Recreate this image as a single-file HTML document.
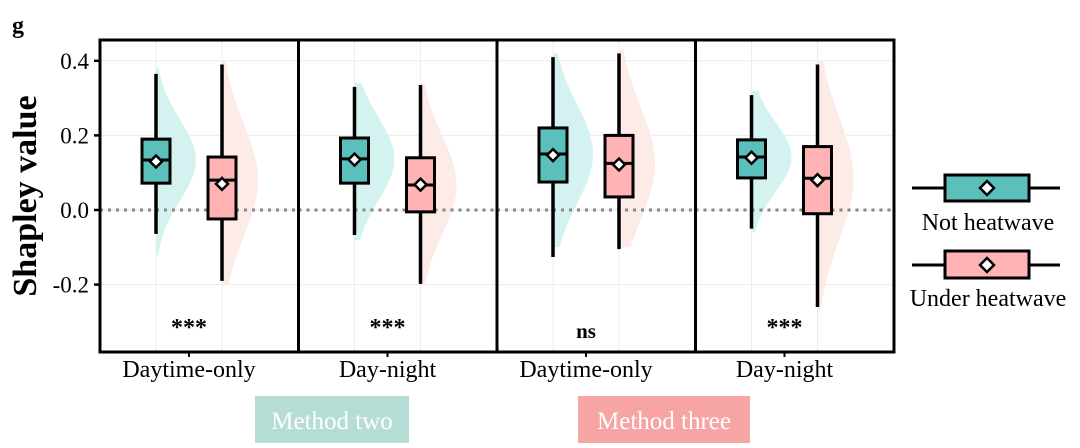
<!DOCTYPE html>
<html><head><meta charset="utf-8"><style>
body{margin:0;background:#fff;}
svg text{font-family:"Liberation Serif",serif;}
</style></head><body>
<svg id="chart" width="1080" height="443" xmlns="http://www.w3.org/2000/svg">
<text x="12" y="33" font-size="24" font-weight="bold">g</text>
<text transform="translate(36,196) rotate(-90)" text-anchor="middle" font-size="34" font-weight="bold">Shapley value</text>
<g id="grid"></g><g id="dens"></g><g id="marks"></g><g id="frame"></g>
<rect x="255" y="396" width="154" height="47" fill="#b5ddd5"/>
<text x="332" y="429" text-anchor="middle" font-size="25" fill="#fff">Method two</text>
<rect x="578" y="396" width="172" height="47" fill="#f6a4a4"/>
<text x="664" y="429" text-anchor="middle" font-size="25" fill="#fff">Method three</text>
<g>
<line x1="912" y1="188" x2="1060" y2="188" stroke="#000" stroke-width="3"/>
<rect x="945" y="175" width="84" height="26" fill="#5bbfbc" stroke="#000" stroke-width="3"/>
<polygon points="987,181 994,188 987,195 980,188" fill="#fff" stroke="#000" stroke-width="2.5"/>
<text x="988" y="230" text-anchor="middle" font-size="24">Not heatwave</text>
<line x1="912" y1="265" x2="1060" y2="265" stroke="#000" stroke-width="3"/>
<rect x="945" y="251" width="84" height="27" fill="#ffb3b5" stroke="#000" stroke-width="3"/>
<polygon points="987,258 994,265 987,272 980,265" fill="#fff" stroke="#000" stroke-width="2.5"/>
<text x="988" y="306" text-anchor="middle" font-size="24">Under heatwave</text>
</g>
</svg>
<script>
const panels=["Daytime-only","Day-night","Daytime-only","Day-night"];
const signif=["***","***","ns","***"];
const yTicks=[0.4,0.2,0.0,-0.2];
const yTickLabels=["0.4","0.2","0.0","-0.2"];
// per panel: [not heatwave, under heatwave]
const whiskHi=[[0.365,0.39],[0.33,0.335],[0.41,0.42],[0.308,0.39]];
const q3=[[0.19,0.142],[0.193,0.14],[0.22,0.2],[0.188,0.17]];
const med=[[0.134,0.08],[0.137,0.067],[0.15,0.125],[0.142,0.085]];
const q1=[[0.072,-0.024],[0.072,-0.005],[0.075,0.035],[0.086,-0.01]];
const whiskLo=[[-0.064,-0.19],[-0.067,-0.198],[-0.126,-0.105],[-0.05,-0.26]];
const means=[[0.13,0.07],[0.135,0.068],[0.147,0.122],[0.14,0.08]];
const densLo=[[-0.12,-0.2],[-0.08,-0.2],[-0.1,-0.1],[-0.06,-0.27]];
const densHi=[[0.38,0.4],[0.34,0.34],[0.42,0.43],[0.32,0.4]];

const NS="http://www.w3.org/2000/svg";
const yS=v=>210-v*373;
const pX0=100,pW=198.5,pTop=40,pBot=352;
function mk(t,a,p){const e=document.createElementNS(NS,t);for(const k in a)e.setAttribute(k,a[k]);(p||document.getElementById('chart')).appendChild(e);return e;}
const G=id=>document.getElementById(id);
const fills=["#5bbfbc","#ffb3b5"],dfill=["#d3f2f0","#fdebe7"];
const names=["not-heatwave","under-heatwave"];
yTicks.forEach((t,i)=>{
 const l=mk('line',{x1:pX0,x2:pX0+4*pW,y1:yS(t),y2:yS(t),stroke:'#ececec','stroke-width':1},G('grid'));
 
 
 const k=mk('line',{x1:94,x2:100,y1:yS(t),y2:yS(t),stroke:'#000','stroke-width':2.5});
 
 
 const tx=mk('text',{x:89,y:yS(t)+8,'text-anchor':'end','font-size':23});tx.textContent=yTickLabels[i];
 
 
});
panels.forEach((p,pi)=>{
 const px=pX0+pi*pW;
 [56,122].forEach(o=>{const g=mk('line',{x1:px+o,x2:px+o,y1:pTop,y2:pBot,stroke:'#ececec','stroke-width':1},G('grid'));
  
  });
 const z=mk('line',{x1:px,x2:px+pW,y1:yS(0),y2:yS(0),stroke:'#888','stroke-width':3,'stroke-dasharray':'3,5'},G('marks'));
 
 
 for(let s=0;s<2;s++){
  const cx=px+(s?122:56),lo=densLo[pi][s],hi=densHi[pi][s],m=med[pi][s];
  const sd=(q3[pi][s]-q1[pi][s])/1.1,wmax=s?36:40;
  let d=`M${cx},${yS(lo)}`;
  for(let i=0;i<=60;i++){const v=lo+(hi-lo)*i/60;const w=wmax*Math.exp(-0.5*((v-m)/sd)**2);d+=`L${cx+w},${yS(v)}`;}
  d+=`L${cx},${yS(hi)}Z`;
  const dp=mk('path',{d:d,fill:dfill[s]},G('dens'));
  
  
  const g=G('marks');
  const w=mk('line',{x1:cx,x2:cx,y1:yS(whiskHi[pi][s]),y2:yS(whiskLo[pi][s]),stroke:'#000','stroke-width':3.5},g);
  
  
  const b=mk('rect',{x:cx-14,y:yS(q3[pi][s]),width:28,height:yS(q1[pi][s])-yS(q3[pi][s]),fill:fills[s],stroke:'#000','stroke-width':3},g);
  
  
  const ml=mk('line',{x1:cx-14,x2:cx+14,y1:yS(m),y2:yS(m),stroke:'#000','stroke-width':3},g);
  
  
  const my=yS(means[pi][s]);
  const mp=mk('polygon',{points:`${cx},${my-6} ${cx+6},${my} ${cx},${my+6} ${cx-6},${my}`,fill:'#fff',stroke:'#000','stroke-width':2.5},g);
  
  
 }
 const st=mk('text',{x:px+89,y:signif[pi]=='ns'?338:335,'text-anchor':'middle','font-size':signif[pi]=='ns'?21:24,'font-weight':'bold'});
 st.textContent=signif[pi];
 
 
 const xl=mk('text',{x:px+89,y:377,'text-anchor':'middle','font-size':24});
 xl.textContent=p;
 
 
 const fr=mk('rect',{x:px,y:pTop,width:pW,height:pBot-pTop,fill:'none',stroke:'#000','stroke-width':3},G('frame'));
 
 
 const xt=mk('line',{x1:px+89,x2:px+89,y1:pBot,y2:pBot+5,stroke:'#000','stroke-width':2});
 
 
});
</script>
</body></html>
